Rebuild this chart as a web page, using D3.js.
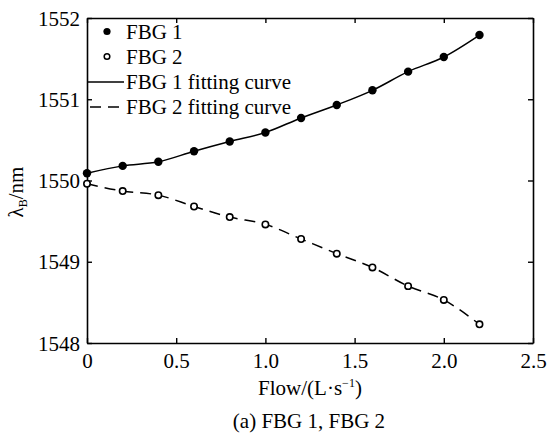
<!DOCTYPE html>
<html>
<head>
<meta charset="utf-8">
<script src="https://cdn.jsdelivr.net/npm/d3@7"></script>
<style>
  html, body { margin: 0; padding: 0; background: #fff; }
  svg { display: block; }
  text { font-family: "Liberation Serif", "Times New Roman", serif; fill: #000; }
</style>
</head>
<body>
<svg id="chart" width="547" height="436"></svg>
<script>
// ---- data ----
const flow = [0, 0.2, 0.4, 0.6, 0.8, 1.0, 1.2, 1.4, 1.6, 1.8, 2.0, 2.2];
const fbg1 = [1550.09, 1550.18, 1550.23, 1550.36, 1550.48, 1550.59, 1550.77, 1550.93, 1551.11, 1551.34, 1551.52, 1551.79];
const fbg2 = [1549.96, 1549.87, 1549.82, 1549.68, 1549.55, 1549.46, 1549.28, 1549.10, 1548.93, 1548.70, 1548.53, 1548.23];
const xTicks = [0, 0.5, 1.0, 1.5, 2.0, 2.5];
const xTickLabels = ["0", "0.5", "1.0", "1.5", "2.0", "2.5"];
const yTicks = [1548, 1549, 1550, 1551, 1552];
const legendLabels = ["FBG 1", "FBG 2", "FBG 1 fitting curve", "FBG 2 fitting curve"];

// ---- layout ----
const svg = d3.select("#chart");
const m = { left: 87, right: 533, top: 18, bottom: 343 };
const x = d3.scaleLinear().domain([0, 2.5]).range([m.left, m.right]);
const y = d3.scaleLinear().domain([1548, 1552]).range([m.bottom, m.top]);
const fs = 21;
const tickLen = 5;

// ---- axes (ticks inward on all sides) ----
const axisBottom = d3.axisBottom(x).tickValues(xTicks).tickSizeInner(-tickLen).tickSizeOuter(0)
  .tickFormat((d, i) => xTickLabels[i]).tickPadding(10);
const gB = svg.append("g").attr("transform", `translate(0,${m.bottom})`).call(axisBottom);
const axisTop = d3.axisTop(x).tickValues(xTicks).tickSizeInner(-tickLen).tickSizeOuter(0).tickFormat("");
const gT = svg.append("g").attr("transform", `translate(0,${m.top})`).call(axisTop);
const axisLeft = d3.axisLeft(y).tickValues(yTicks).tickSizeInner(-tickLen).tickSizeOuter(0)
  .tickFormat(d3.format("d")).tickPadding(7);
const gL = svg.append("g").attr("transform", `translate(${m.left},0)`).call(axisLeft);
const axisRight = d3.axisRight(y).tickValues(yTicks).tickSizeInner(-tickLen).tickSizeOuter(0).tickFormat("");
const gR = svg.append("g").attr("transform", `translate(${m.right},0)`).call(axisRight);

[gB, gT, gL, gR].forEach(g => {
  g.select(".domain").attr("stroke", "#000").attr("stroke-width", 1.6);
  g.selectAll(".tick line").attr("stroke", "#000").attr("stroke-width", 1.4);
  g.selectAll(".tick text").style("font-size", fs + "px").style("font-family", '"Liberation Serif", serif').attr("fill", "#000");
});
gB.selectAll(".tick text").attr("dy", "0.71em");
gL.selectAll(".tick text").attr("dy", "0.34em");

// ---- curves ----
const line = d3.line().x(d => x(d[0])).y(d => y(d[1])).curve(d3.curveMonotoneX);
const pts1 = flow.map((f, i) => [f, fbg1[i]]);
const pts2 = flow.map((f, i) => [f, fbg2[i]]);

svg.append("path").attr("d", line(pts1)).attr("fill", "none").attr("stroke", "#000").attr("stroke-width", 1.5);
svg.append("path").attr("d", line(pts2)).attr("fill", "none").attr("stroke", "#000").attr("stroke-width", 1.5)
  .attr("stroke-dasharray", "11,7");

svg.append("g").selectAll("circle").data(pts1).join("circle")
  .attr("cx", d => x(d[0])).attr("cy", d => y(d[1])).attr("r", 4.2).attr("fill", "#000");
svg.append("g").selectAll("circle").data(pts2).join("circle")
  .attr("cx", d => x(d[0])).attr("cy", d => y(d[1])).attr("r", 3.2)
  .attr("fill", "#fff").attr("stroke", "#000").attr("stroke-width", 1.6);

// ---- legend ----
const lg = svg.append("g");
const rowY = [31.5, 56.5, 82, 107];
lg.append("circle").attr("cx", 107).attr("cy", rowY[0]).attr("r", 3.6).attr("fill", "#000");
lg.append("circle").attr("cx", 107).attr("cy", rowY[1]).attr("r", 2.8).attr("fill", "#fff")
  .attr("stroke", "#000").attr("stroke-width", 1.5);
lg.append("line").attr("x1", m.left).attr("x2", 124).attr("y1", rowY[2]).attr("y2", rowY[2])
  .attr("stroke", "#000").attr("stroke-width", 1.5);
lg.append("line").attr("x1", 90).attr("x2", 124).attr("y1", rowY[3]).attr("y2", rowY[3])
  .attr("stroke", "#000").attr("stroke-width", 1.5).attr("stroke-dasharray", "11,7");
lg.selectAll("text").data(legendLabels).join("text")
  .attr("x", 126).attr("y", (d, i) => rowY[i]).attr("dy", "0.34em")
  .style("font-size", fs + "px").text(d => d);

// ---- axis titles ----
const xl = svg.append("text").attr("x", 310).attr("y", 395).attr("text-anchor", "middle").style("font-size", fs + "px");
xl.append("tspan").text("Flow/(L·s");
xl.append("tspan").attr("dy", -8).style("font-size", "12px").text("−1");
xl.append("tspan").attr("dy", 8).text(")");

const yl = svg.append("text").attr("transform", "translate(23,192) rotate(-90)").attr("text-anchor", "middle").style("font-size", fs + "px");
yl.append("tspan").text("λ");
yl.append("tspan").attr("dy", 4).style("font-size", "12px").text("B");
yl.append("tspan").attr("dy", -4).text("/nm");

svg.append("text").attr("x", 309).attr("y", 428).attr("text-anchor", "middle").style("font-size", "21px")
  .text("(a) FBG 1, FBG 2");
</script>
</body>
</html>
